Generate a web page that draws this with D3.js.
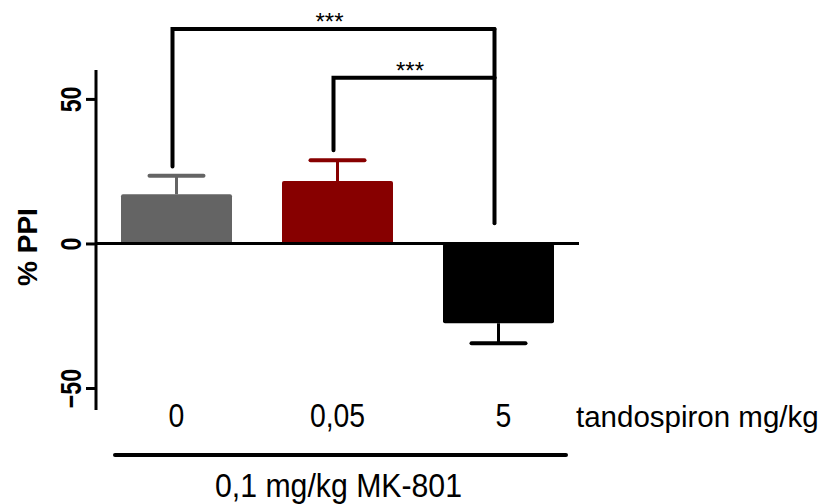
<!DOCTYPE html>
<html>
<head>
<meta charset="utf-8">
<script src="https://cdn.jsdelivr.net/npm/d3@7"></script>
<style>
  body { margin: 0; background: #fff; }
  text { font-family: "Liberation Sans", Arial, sans-serif; fill: #000; }
</style>
</head>
<body>
<div id="chart"></div>
<script>
(function () {

  // data
  var doses = ["0", "0,05", "5"]
  var means = [17.0, 21.6, -27.6]
  var errors = [6.4, 7.2, 6.9]
  var barColors = ["#646464", "#870000", "#000000"]
  var yTicks = [-50, 0, 50]

  // significance brackets: from group, to group, bracket height, leg ends
  var bracketFrom = [0, 1]
  var bracketTo = [2, 2]
  var bracketY = [74.2, 57.3]
  var bracketLeftEnd = [26.6, 32.2]
  var bracketRightEnd = [57.3, 7.0]
  var bracketLabel = ["***", "***"]

  var width = 829, height = 504

  var svg = d3.select("#chart").append("svg")
    .attr("width", width)
    .attr("height", height)

  var xPositionScale = d3.scaleBand()
    .domain(doses)
    .range([96, 579])
    .paddingInner(0.3106)
    .paddingOuter(0.1553)

  var yPositionScale = d3.scaleLinear()
    .domain([-57.6, 60])
    .range([410, 70])

  var cx = function (i) { return xPositionScale(doses[i]) + xPositionScale.bandwidth() / 2 }

  // bars
  svg.selectAll(".bar")
    .data(doses)
    .enter().append("rect")
    .attr("class", "bar")
    .attr("x", function (d) { return xPositionScale(d) })
    .attr("width", xPositionScale.bandwidth())
    .attr("y", function (d, i) { return yPositionScale(Math.max(0, means[i])) })
    .attr("height", function (d, i) { return Math.abs(yPositionScale(means[i]) - yPositionScale(0)) })
    .attr("rx", 2)
    .attr("fill", function (d, i) { return barColors[i] })

  // error bars (one direction, away from zero)
  var err = svg.selectAll(".err")
    .data(doses)
    .enter().append("g")
    .attr("class", "err")
    .attr("stroke", function (d, i) { return barColors[i] })

  err.append("line")
    .attr("x1", function (d, i) { return cx(i) })
    .attr("x2", function (d, i) { return cx(i) })
    .attr("y1", function (d, i) { return yPositionScale(means[i]) })
    .attr("y2", function (d, i) { return yPositionScale(means[i] + Math.sign(means[i]) * errors[i]) })
    .attr("stroke-width", 3)

  err.append("line")
    .attr("x1", function (d, i) { return cx(i) - 27 })
    .attr("x2", function (d, i) { return cx(i) + 27 })
    .attr("y1", function (d, i) { return yPositionScale(means[i] + Math.sign(means[i]) * errors[i]) })
    .attr("y2", function (d, i) { return yPositionScale(means[i] + Math.sign(means[i]) * errors[i]) })
    .attr("stroke-width", 4)
    .attr("stroke-linecap", "round")

  // zero line
  svg.append("line")
    .attr("x1", 96).attr("x2", 579)
    .attr("y1", yPositionScale(0)).attr("y2", yPositionScale(0))
    .attr("stroke", "#000")
    .attr("stroke-width", 3)

  // y axis
  var yAxis = d3.axisLeft(yPositionScale)
    .tickValues(yTicks)
    .tickSize(10)
    .tickFormat(d3.format("d"))
  var yg = svg.append("g")
    .attr("class", "axis y-axis")
    .attr("transform", "translate(96,0)")
    .call(yAxis)
  yg.select(".domain").remove()
  yg.selectAll(".tick line").attr("stroke-width", 3)
  yg.selectAll(".tick text")
    .attr("x", 0).attr("y", 0).attr("dy", null)
    .attr("transform", "translate(-15,0) rotate(-90) scale(0.8,1)")
    .attr("text-anchor", "middle")
    .style("font-size", "29px")
    .style("font-weight", "bold")
    .attr("fill", "#000")
  yg.append("line")
    .attr("x1", 0).attr("x2", 0)
    .attr("y1", 70).attr("y2", 410)
    .attr("stroke", "#000")
    .attr("stroke-width", 3)

  svg.append("text")
    .attr("transform", "translate(37,247) rotate(-90)")
    .attr("text-anchor", "middle")
    .style("font-size", "28px")
    .style("font-weight", "bold")
    .text("% PPI")

  // x labels (the original font is a narrow sans)
  svg.selectAll(".xlabel")
    .data(doses)
    .enter().append("text")
    .attr("class", "xlabel")
    .attr("transform", function (d, i) { return "translate(" + (cx(i) + (i === 2 ? 5 : 0)) + ",427) scale(0.86,1)" })
    .attr("text-anchor", "middle")
    .style("font-size", "33px")
    .text(function (d) { return d })

  svg.append("text")
    .attr("x", 576).attr("y", 427)
    .style("font-size", "29.5px")
    .text("tandospiron mg/kg")

  svg.append("line")
    .attr("x1", 115).attr("x2", 566)
    .attr("y1", 455).attr("y2", 455)
    .attr("stroke", "#000")
    .attr("stroke-width", 4)
    .attr("stroke-linecap", "round")

  svg.append("text")
    .attr("x", 215).attr("y", 497)
    .attr("textLength", 247)
    .attr("lengthAdjust", "spacingAndGlyphs")
    .style("font-size", "33px")
    .text("0,1 mg/kg MK-801")

  // brackets
  var br = svg.selectAll(".bracket")
    .data(bracketFrom)
    .enter().append("g")
    .attr("class", "bracket")
    .attr("stroke", "#000")
    .attr("stroke-width", 4)
    .attr("stroke-linecap", "round")
    .attr("fill", "none")

  br.append("path")
    .attr("d", function (d, i) {
      var x1 = cx(bracketFrom[i]) - 4, x2 = cx(bracketTo[i]) - 4
      return "M" + x1 + "," + yPositionScale(bracketLeftEnd[i]) +
        "V" + yPositionScale(bracketY[i]) + "H" + x2
    })

  br.append("line")
    .attr("x1", function (d, i) { return cx(bracketTo[i]) - 4 })
    .attr("x2", function (d, i) { return cx(bracketTo[i]) - 4 })
    .attr("y1", function (d, i) { return yPositionScale(bracketY[i]) })
    .attr("y2", function (d, i) { return yPositionScale(bracketRightEnd[i]) })

  svg.selectAll(".stars")
    .data(bracketLabel)
    .enter().append("text")
    .attr("class", "stars")
    .attr("x", function (d, i) { return (cx(bracketFrom[i]) + cx(bracketTo[i])) / 2 - 8 })
    .attr("y", function (d, i) { return yPositionScale(bracketY[i]) + 1 })
    .attr("text-anchor", "middle")
    .style("font-size", "24px")
    .text(function (d) { return d })

})()
</script>
</body>
</html>
